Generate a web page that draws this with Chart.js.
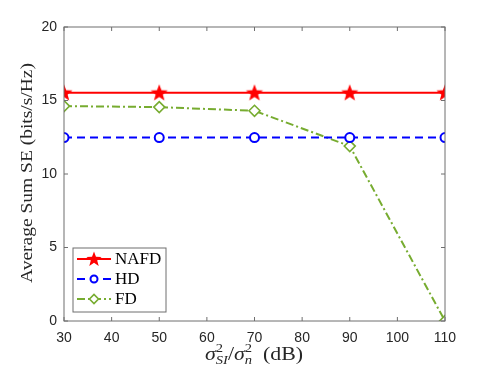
<!DOCTYPE html>
<html>
<head>
<meta charset="utf-8">
<script src="https://cdn.jsdelivr.net/npm/chart.js@4/dist/chart.umd.min.js"></script>
<style>
  html, body { margin: 0; padding: 0; background: #fff; }
  #wrap { width: 491px; height: 368px; }
</style>
</head>
<body>
<div id="wrap"><canvas id="myChart" width="491" height="368"></canvas></div>
<script>
// data
var xValues = [30, 50, 70, 90, 110];
var nafd = [15.53, 15.53, 15.53, 15.53, 15.53];
var hd = [12.48, 12.48, 12.48, 12.48, 12.48];
var fd = [14.62, 14.55, 14.3, 11.9, 0];
var seriesNames = ["NAFD", "HD", "FD"];
var xTicks = [30, 40, 50, 60, 70, 80, 90, 100, 110];
var yTicks = [0, 5, 10, 15, 20];

var axisColor = "#262626";
var frameColor = "#6e6e6e";
var serif = "'Liberation Serif', 'DejaVu Serif', serif";
var sans = "'Liberation Sans', Arial, sans-serif";

function toPoints(ys) {
    var pts = [];
    for (var i = 0; i < xValues.length; i++) {
        pts.push({x: xValues[i], y: ys[i]});
    }
    return pts;
}

// filled five point star used as the NAFD marker
function makeStar(r, color) {
    var c = document.createElement("canvas");
    c.width = r * 2 + 2;
    c.height = r * 2 + 2;
    var g = c.getContext("2d");
    g.translate(r + 1, r + 1.5);
    g.beginPath();
    for (var i = 0; i < 10; i++) {
        var rad = (i % 2 === 0) ? r : r * 0.42;
        var a = -Math.PI / 2 + i * Math.PI / 5;
        g.lineTo(rad * Math.cos(a), rad * Math.sin(a));
    }
    g.closePath();
    g.fillStyle = color;
    g.fill();
    return c;
}
var starImg = makeStar(9, "#ff0000");
var starSmall = makeStar(8, "#ff0000");

var datasets = [{
    label: seriesNames[0],
    data: toPoints(nafd),
    borderColor: "#ff0000",
    backgroundColor: "#ff0000",
    borderWidth: 2,
    pointStyle: starImg,
    pointRadius: 9,
    tension: 0
}, {
    label: seriesNames[1],
    data: toPoints(hd),
    borderColor: "#0000ff",
    backgroundColor: "#ffffff",
    borderWidth: 2,
    borderDash: [8, 5],
    pointStyle: "circle",
    pointRadius: 4.5,
    pointBorderWidth: 2,
    tension: 0
}, {
    label: seriesNames[2],
    data: toPoints(fd),
    borderColor: "#77ac30",
    backgroundColor: "#ffffff",
    borderWidth: 2,
    borderDash: [8, 3, 2, 3],
    pointStyle: "rectRot",
    pointRadius: 5.5,
    pointBorderWidth: 1.6,
    tension: 0
}];
// legend marker sizes are a bit smaller than the plotted ones
var legendMarks = [{style: starSmall, r: 8}, {style: "circle", r: 3.5}, {style: "rectRot", r: 4.5}];

// draws text squeezed or stretched to a given width
function fitText(ctx, txt, x, y, width) {
    var w = ctx.measureText(txt).width;
    ctx.save();
    ctx.translate(x, y);
    ctx.scale(width / w, 1);
    ctx.fillText(txt, 0, 0);
    ctx.restore();
}

// frame, inner ticks, legend and axis titles
var decorPlugin = {
    id: "decor",
    afterDraw: function (chart) {
        var ctx = chart.ctx;
        var a = chart.chartArea;
        var xs = chart.scales.x, ys = chart.scales.y;
        ctx.save();
        ctx.strokeStyle = frameColor;
        ctx.lineWidth = 1;
        ctx.setLineDash([]);
        ctx.strokeRect(a.left, a.top, a.right - a.left, a.bottom - a.top);
        var tl = 4;
        ctx.beginPath();
        xTicks.forEach(function (v) {
            var px = xs.getPixelForValue(v);
            ctx.moveTo(px, a.bottom); ctx.lineTo(px, a.bottom - tl);
            ctx.moveTo(px, a.top); ctx.lineTo(px, a.top + tl);
        });
        yTicks.forEach(function (v) {
            var py = ys.getPixelForValue(v);
            ctx.moveTo(a.left, py); ctx.lineTo(a.left + tl, py);
            ctx.moveTo(a.right, py); ctx.lineTo(a.right - tl, py);
        });
        ctx.stroke();

        // legend box
        var lx = 73, ly = 248, lw = 93, lh = 64;
        ctx.fillStyle = "#ffffff";
        ctx.fillRect(lx, ly, lw, lh);
        ctx.strokeStyle = frameColor;
        ctx.strokeRect(lx, ly, lw, lh);
        var rows = [259, 279, 299];
        chart.data.datasets.forEach(function (ds, i) {
            var y = rows[i];
            ctx.save();
            ctx.strokeStyle = ds.borderColor;
            ctx.lineWidth = ds.borderWidth;
            ctx.setLineDash(ds.borderDash || []);
            ctx.beginPath();
            ctx.moveTo(77, y); ctx.lineTo(111, y);
            ctx.stroke();
            ctx.setLineDash([]);
            ctx.fillStyle = ds.backgroundColor;
            ctx.strokeStyle = ds.borderColor;
            ctx.lineWidth = ds.pointBorderWidth || 1;
            Chart.helpers.drawPoint(ctx, {
                pointStyle: legendMarks[i].style,
                radius: legendMarks[i].r,
                rotation: 0,
                borderWidth: ds.pointBorderWidth || 1
            }, 94, y);
            ctx.restore();
            ctx.fillStyle = "#000";
            ctx.font = "17px " + serif;
            ctx.textBaseline = "middle";
            ctx.textAlign = "left";
            ctx.fillText(ds.label, 115, y + 1);
        });

        // y axis title
        ctx.save();
        ctx.translate(28, 173);
        ctx.rotate(-Math.PI / 2);
        ctx.fillStyle = axisColor;
        ctx.font = "17px " + serif;
        ctx.textAlign = "left";
        ctx.textBaseline = "middle";
        fitText(ctx, "Average Sum SE (bits/s/Hz)", -110, 0, 220);
        ctx.restore();

        // x axis title: sigma^2_SI / sigma^2_n (dB)
        var parts = [
            {t: "\u03c3", f: "italic 18px " + serif, dy: 0},
            {t: "2", f: "12px " + serif, dy: -8, keep: true},
            {t: "SI", f: "italic 12px " + serif, dy: 4},
            {t: "/", f: "18px " + serif, dy: 0},
            {t: "\u03c3", f: "italic 18px " + serif, dy: 0},
            {t: "2", f: "12px " + serif, dy: -8, keep: true},
            {t: "n", f: "italic 12px " + serif, dy: 4},
            {t: "  (dB)", f: "18px " + serif, dy: 0}
        ];
        var total = 0, widths = [];
        parts.forEach(function (p) {
            ctx.font = p.f;
            var w = ctx.measureText(p.t).width;
            widths.push(w);
            if (!p.keep) total += w;
        });
        var target = 98;
        ctx.fillStyle = axisColor;
        ctx.textAlign = "left";
        ctx.textBaseline = "alphabetic";
        ctx.translate(205, 360);
        ctx.scale(target / total, 1);
        var cx = 0;
        parts.forEach(function (p, i) {
            ctx.font = p.f;
            ctx.fillText(p.t, cx, p.dy);
            if (!p.keep) cx += widths[i];
        });
        ctx.restore();
    }
};

var ctx = document.getElementById("myChart").getContext("2d");
var myChart = new Chart(ctx, {
    type: "line",
    data: {datasets: datasets},
    options: {
        responsive: false,
        animation: false,
        layout: {padding: {top: 27, right: 46, left: 0, bottom: 0}},
        plugins: {legend: {display: false}, tooltip: {enabled: false}},
        scales: {
            x: {
                type: "linear",
                min: 30,
                max: 110,
                afterBuildTicks: function (s) { s.ticks = xTicks.map(function (v) { return {value: v}; }); },
                afterFit: function (s) { s.height = 47; },
                grid: {display: false, drawTicks: false},
                border: {display: false},
                ticks: {color: axisColor, font: {family: sans, size: 14}, padding: 9, maxRotation: 0, autoSkip: false}
            },
            y: {
                min: 0,
                max: 20,
                afterBuildTicks: function (s) { s.ticks = yTicks.map(function (v) { return {value: v}; }); },
                afterFit: function (s) { s.width = 64; },
                grid: {display: false, drawTicks: false},
                border: {display: false},
                ticks: {color: axisColor, font: {family: sans, size: 14}, padding: 7}
            }
        }
    },
    plugins: [decorPlugin]
});
</script>
</body>
</html>
